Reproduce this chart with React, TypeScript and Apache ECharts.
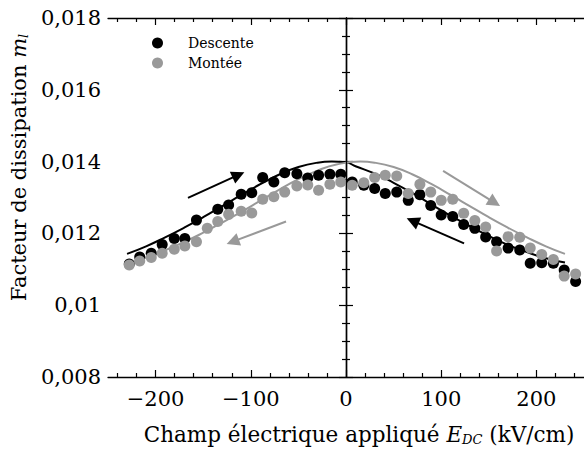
import React, { useEffect, useRef } from "react";
import * as echarts from "echarts";

// Champ électrique appliqué (kV/cm) for the measured points
const fieldE = [
  -227.7, -216.7, -204.6, -193.1, -180.4, -169.3, -157.1, -145.7, -134.7, -123.3,
  -110.1, -99, -87.5, -75.8, -64.4, -51.6, -40.2, -28.8, -16.9, -5.5,
  6.5, 18.7, 30.1, 41.2, 53.3, 65.4, 77.6, 89, 100, 112.1,
  123.6, 135.3, 146.7, 158.2, 170.3, 182.5, 193.5, 205.6, 217.8, 229.2, 241.2,
];
// Facteur de dissipation – Descente (black points)
const descenteM = [
  0.01115, 0.01134, 0.01145, 0.01169, 0.01186, 0.01186, 0.01237, null, 0.01267, 0.01279,
  0.01309, 0.01313, 0.01356, 0.01343, 0.01369, 0.01366, 0.01354, 0.01362, 0.01365, 0.01365,
  0.01343, 0.01334, 0.01325, 0.01311, 0.01315, 0.01292, 0.01308, 0.01278, 0.01251, 0.01247,
  0.01225, 0.01214, 0.0119, 0.01177, 0.01159, 0.01154, 0.01117, 0.01118, 0.01117, 0.01098, 0.01066,
];
// Facteur de dissipation – Montée (grey points)
const monteeM = [
  0.01112, 0.01123, 0.01133, 0.01145, 0.01156, 0.01165, 0.01177, 0.01214, 0.01233, 0.01253,
  0.01262, 0.01257, 0.01295, 0.01302, 0.01315, 0.01332, 0.01335, 0.0132, 0.01337, 0.01343,
  0.01334, 0.01341, 0.01356, 0.01362, 0.0136, 0.01311, 0.01337, 0.01315, 0.01292, 0.01295,
  0.01256, 0.01236, 0.01218, 0.01151, 0.01191, 0.01189, 0.01159, 0.01141, 0.01127, 0.01081, 0.01087,
];
// Fitted curves
const descenteFitE = [-230, -210, -190, -170, -150, -130, -110, -90, -70, -50, -30, -15, 0, 10, 30, 50, 70, 90, 110, 130, 150, 170, 190, 210, 230];
const descenteFit = [
  0.01143, 0.01164, 0.01189, 0.01216, 0.01245, 0.01276, 0.01307, 0.01337, 0.01364, 0.01385,
  0.01397, 0.014, 0.01398, 0.01387, 0.01367, 0.01341, 0.01312, 0.0128, 0.01249, 0.0122,
  0.01193, 0.01168, 0.01148, 0.01131, 0.01119,
];
const monteeFitE = [-230, -210, -190, -170, -150, -130, -110, -90, -70, -50, -30, -10, 15, 30, 50, 70, 90, 110, 130, 150, 170, 190, 210, 230];
const monteeFit = [
  0.01115, 0.01133, 0.01153, 0.01176, 0.01202, 0.0123, 0.0126, 0.01291, 0.01322, 0.01351,
  0.01375, 0.01392, 0.014, 0.01397, 0.01385, 0.01364, 0.01337, 0.01307, 0.01276, 0.01245,
  0.01216, 0.01189, 0.01164, 0.01143,
];
// Arrows (tail -> head) in data units
const descenteArrows = [
  [[-166, 0.01299], [-113, 0.01363]],
  [[124, 0.01172], [70, 0.01235]],
];
const monteeArrows = [
  [[-63, 0.01233], [-119, 0.01177]],
  [[102, 0.01374], [156, 0.01286]],
];
const xMajorTicks = [-200, -100, 0, 100, 200];
const xMinorTicks = [-240, -220, -180, -160, -140, -120, -80, -60, -40, -20, 20, 40, 60, 80, 120, 140, 160, 180, 220, 240];

const SERIF = "DejaVu Serif";
const GREY = "#999999";

const zip = (xs: number[], ys: (number | null)[]) =>
  xs.map((x, i) => [x, ys[i]]).filter((p) => p[1] !== null);

export default function App() {
  const ref = useRef<HTMLDivElement>(null);
  useEffect(() => {
    if (!ref.current) return;
    const chart = echarts.init(ref.current, undefined, { renderer: "svg" });
    const axisLine = { show: true, lineStyle: { color: "#000", width: 1.3 } };
    const baseX = { type: "value", min: -250, max: 250, splitLine: { show: false } };
    const baseY = {
      type: "value",
      min: 0.008,
      max: 0.018,
      interval: 0.002,
      splitLine: { show: false },
      axisLine,
      axisTick: { inside: true, length: 7, lineStyle: { color: "#000", width: 1.2 } },
      minorTick: { show: true, splitNumber: 4, length: 4, lineStyle: { color: "#000", width: 1.2 } },
    };
    const titleRich = {
      t: { fontFamily: SERIF, fontSize: 21, color: "#000" },
      i: { fontFamily: SERIF, fontSize: 21, fontStyle: "italic", color: "#000" },
      s: { fontFamily: SERIF, fontSize: 13, fontStyle: "italic", color: "#000", padding: [10, 0, 0, 0] },
    };
    const xTitleRich = {
      t: { ...titleRich.t, fontSize: 21.5 },
      i: { ...titleRich.i, fontSize: 21.5 },
      s: titleRich.s,
    };
    chart.setOption({
      animation: false,
      backgroundColor: "#fff",
      grid: { left: 107, right: -4, top: 18, bottom: 80, containLabel: false },
      legend: {
        data: ["Descente", "Montée"],
        orient: "vertical",
        left: 147,
        top: 31,
        icon: "circle",
        itemWidth: 11,
        itemHeight: 11,
        itemGap: 6,
        textStyle: { fontFamily: SERIF, fontSize: 14, color: "#000", padding: [0, 0, 0, 20] },
      },
      xAxis: [
        {
          ...baseX,
          position: "bottom",
          axisLine,
          axisTick: { inside: true, length: 7, customValues: xMajorTicks, lineStyle: { color: "#000", width: 1.2 } },
          axisLabel: {
            customValues: xMajorTicks,
            fontFamily: SERIF,
            fontSize: 21,
            color: "#000",
            margin: 11,
            formatter: (v: number) => (v < 0 ? "\u2212" + Math.abs(v) : String(v)),
          },
          name: "{t|Champ électrique appliqué }{i|E}{s|DC}{t| (kV/cm)}",
          nameLocation: "middle",
          nameGap: 46,
          nameTextStyle: { padding: [0, 0, 0, 26], rich: xTitleRich },
        },
        {
          ...baseX,
          position: "bottom",
          axisLine: { show: false },
          axisTick: { inside: true, length: 4, customValues: xMinorTicks, lineStyle: { color: "#000", width: 1.2 } },
          axisLabel: { show: false },
        },
        {
          ...baseX,
          position: "top",
          axisLine,
          axisTick: { inside: true, length: 7, customValues: xMajorTicks, lineStyle: { color: "#000", width: 1.2 } },
          axisLabel: { show: false },
        },
        {
          ...baseX,
          position: "top",
          axisLine: { show: false },
          axisTick: { inside: true, length: 4, customValues: xMinorTicks, lineStyle: { color: "#000", width: 1.2 } },
          axisLabel: { show: false },
        },
      ],
      yAxis: [
        {
          ...baseY,
          position: "left",
          axisLabel: {
            fontFamily: SERIF,
            fontSize: 21,
            color: "#000",
            margin: 7,
            formatter: (v: number) => String(parseFloat(v.toFixed(4))).replace(".", ","),
          },
          name: "{t|Facteur de dissipation }{i|m}{s|l}",
          nameLocation: "middle",
          nameGap: 74,
          nameTextStyle: { padding: [0, 0, 0, 60], rich: titleRich },
        },
        { ...baseY, position: "right", axisLabel: { show: false } },
      ],
      series: [
        {
          name: "Ajustement descente",
          type: "line",
          data: zip(descenteFitE, descenteFit),
          smooth: true,
          showSymbol: false,
          lineStyle: { color: "#000", width: 2 },
          z: 2,
          markLine: {
            silent: true,
            symbol: ["none", "none"],
            label: { show: false },
            lineStyle: { color: "#000", width: 1.2, type: "solid" },
            data: [{ xAxis: 0 }],
          },
        },
        {
          name: "Ajustement montée",
          type: "line",
          data: zip(monteeFitE, monteeFit),
          smooth: true,
          showSymbol: false,
          lineStyle: { color: GREY, width: 2 },
          z: 2,
        },
        {
          name: "Descente",
          type: "scatter",
          data: zip(fieldE, descenteM),
          symbol: "circle",
          symbolSize: 11,
          itemStyle: { color: "#000", opacity: 1 },
          z: 3,
        },
        {
          name: "Montée",
          type: "scatter",
          data: zip(fieldE, monteeM),
          symbol: "circle",
          symbolSize: 11,
          itemStyle: { color: GREY, opacity: 1 },
          z: 4,
        },
        {
          name: "Flèches descente",
          type: "lines",
          coordinateSystem: "cartesian2d",
          symbol: ["none", "triangle"],
          symbolSize: [10, 13],
          lineStyle: { color: "#000", width: 2, opacity: 1 },
          itemStyle: { color: "#000" },
          data: descenteArrows.map((c) => ({ coords: c })),
          z: 5,
        },
        {
          name: "Flèches montée",
          type: "lines",
          coordinateSystem: "cartesian2d",
          symbol: ["none", "triangle"],
          symbolSize: [10, 13],
          lineStyle: { color: GREY, width: 2, opacity: 1 },
          itemStyle: { color: GREY },
          data: monteeArrows.map((c) => ({ coords: c })),
          z: 5,
        },
      ],
    });
    return () => chart.dispose();
  }, []);
  return (
    <div
      ref={ref}
      style={{ position: "absolute", left: 0, top: 0, width: 584, height: 457, overflow: "hidden" }}
    />
  );
}
